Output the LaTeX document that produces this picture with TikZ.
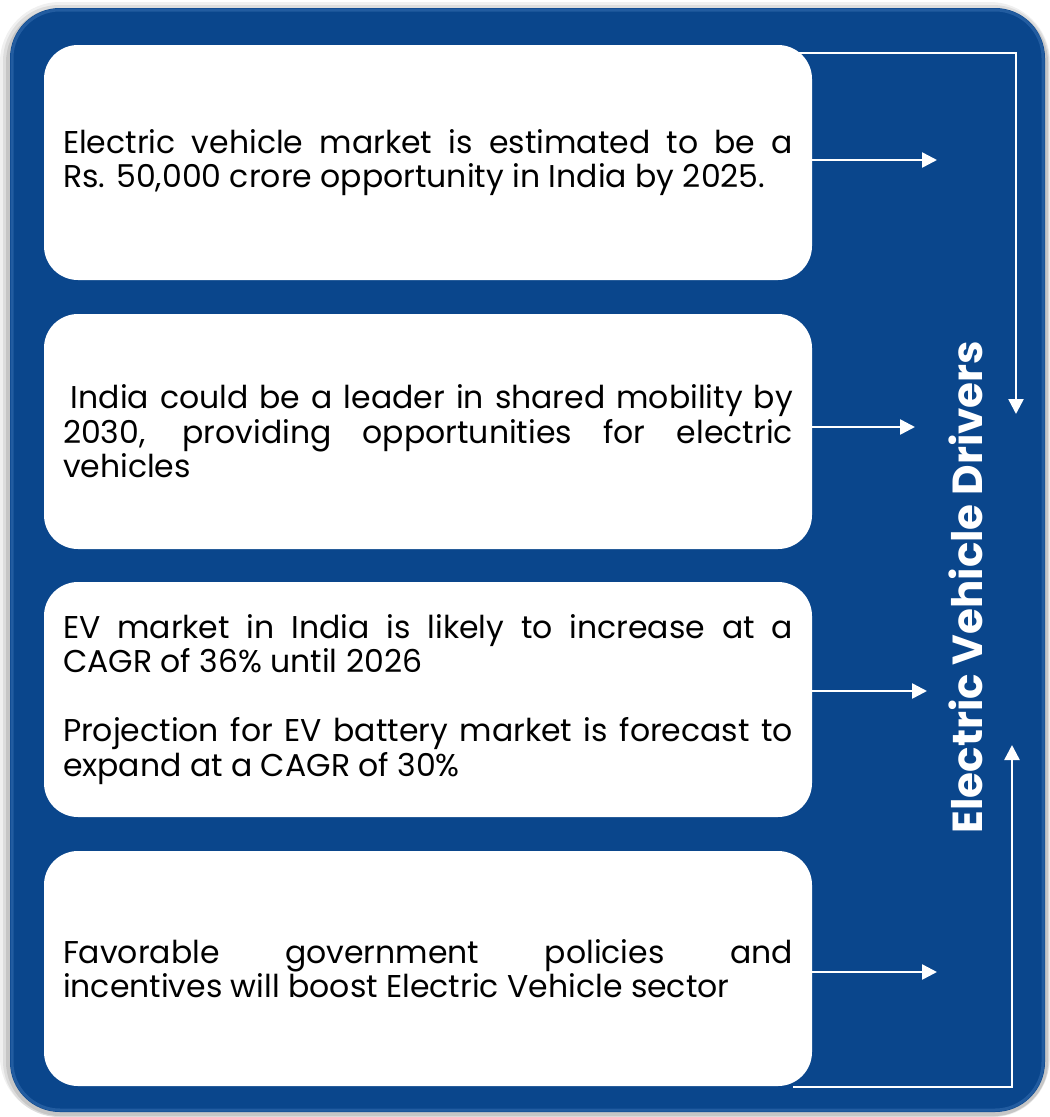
\documentclass[tikz,border=0pt]{standalone}
\usepackage{fontspec}
\setmainfont{Poppins}
\usepackage{xcolor}
\usepackage{tikz}
\usetikzlibrary{arrows.meta}

\definecolor{panelblue}{RGB}{10,70,140}
\definecolor{edgeblue}{RGB}{70,125,190}

\begin{document}
\begin{tikzpicture}[x=1pt, y=-1pt,
  infobox/.style={fill=white, rounded corners=34pt, minimum width=768pt, minimum height=235pt,
    text width=730pt, align=justify, inner sep=0pt, font=\fontsize{31.5}{34.5}\selectfont},
  flow/.style={white, line width=2.5pt, -{Triangle[length=15pt, width=15pt]}}]
  \useasboundingbox (0,0) rectangle (1050,1117);
  % shadow and panel
  \fill[white] (0,0) rectangle (1050,1117);
  \fill[black, opacity=0.06, rounded corners=60pt] (0,2) rectangle (1050,1117);
  \fill[black, opacity=0.08, rounded corners=56pt] (3,5) rectangle (1049,1117);
  \fill[black, opacity=0.10, rounded corners=54pt] (6,8) rectangle (1048,1116);
  \fill[panelblue, rounded corners=50pt] (10,8) rectangle (1045,1112);
  \draw[edgeblue, line width=3pt, opacity=0.4, rounded corners=48pt] (12,10) rectangle (1043,1110);
  \fill[panelblue, rounded corners=46pt] (15,13) rectangle (1040,1107);

  % boxes
  \node[infobox] (box1) at (428,162.5) {Electric vehicle market is estimated to be a\linebreak Rs. 50,000 crore opportunity in India by 2025.};
  \node[infobox] (box2) at (428,431.5) {\hspace{0.25em}India could be a leader in shared mobility by\linebreak 2030, providing opportunities for electric\linebreak vehicles};
  \node[infobox] (box3) at (428,699.5) {EV market in India is likely to increase at a\linebreak CAGR of 36\% until 2026\\[34.5pt]Projection for EV battery market is forecast to\linebreak expand at a CAGR of 30\%};
  \node[infobox] (box4) at (428,968.5) {Favorable government policies and\linebreak incentives will boost Electric Vehicle sector};

  % title
  \node[rotate=90, text=white, font=\fontsize{42}{48}\selectfont\bfseries] (title) at (966,587) {Electric Vehicle Drivers};

  % arrows
  \coordinate (t1) at (937,160);
  \coordinate (t2) at (915,427);
  \coordinate (t3) at (927,691);
  \coordinate (t4) at (937,972);
  \coordinate (top) at (1016,414);
  \coordinate (bot) at (1012,745);
  \draw[flow] (box1.east |- t1) -- (t1);
  \draw[flow] (box2.east |- t2) -- (t2);
  \draw[flow] (box3.east |- t3) -- (t3);
  \draw[flow] (box4.east |- t4) -- (t4);
  \draw[flow] ([xshift=-14pt, yshift=-8pt]box1.north east) -| (top);
  \draw[flow] ([xshift=-19pt, yshift=-1pt]box4.south east) -| (bot);
\end{tikzpicture}
\end{document}
